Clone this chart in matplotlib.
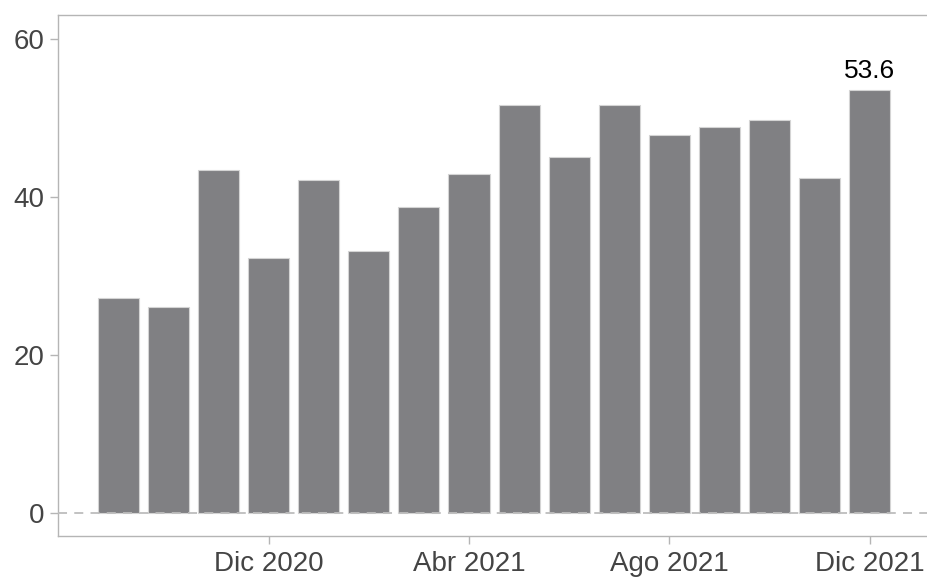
import matplotlib.pyplot as plt
import numpy as np

plt.rcParams['font.family'] = ['Liberation Sans', 'DejaVu Sans']

months = ["Sep 2020", "Oct 2020", "Nov 2020", "Dic 2020", "Ene 2021", "Feb 2021",
          "Mar 2021", "Abr 2021", "May 2021", "Jun 2021", "Jul 2021", "Ago 2021",
          "Sep 2021", "Oct 2021", "Nov 2021", "Dic 2021"]
values = [27.2, 26.1, 43.4, 32.3, 42.1, 33.2, 38.7, 42.9,
          51.6, 45.1, 51.6, 47.8, 48.8, 49.8, 42.4, 53.6]
shown_ticks = ["Dic 2020", "Abr 2021", "Ago 2021", "Dic 2021"]

x = np.arange(len(months))

fig = plt.figure(figsize=(9.27, 5.79), dpi=100)
ax = fig.add_axes([0.0626, 0.0743, 0.9374, 0.8993])

ax.bar(x, values, width=0.82, color='#808083', edgecolor='#d4d4d4', linewidth=0.8, zorder=2)
ax.axhline(0, color='#bdbdbd', linestyle=(0, (5, 4)), linewidth=1.3, zorder=3)

# label only the last bar
ax.annotate(f"{values[-1]:.1f}", (x[-1], values[-1]), xytext=(0, 5),
            textcoords='offset points', ha='center', va='bottom',
            fontsize=19, color='black')

ax.set_xlim(-1.2, 16.14)
ax.set_ylim(-2.9, 63)
ax.set_yticks([0, 20, 40, 60])
tick_pos = [months.index(m) for m in shown_ticks]
ax.set_xticks(tick_pos)
ax.set_xticklabels(shown_ticks)

for s in ['left', 'bottom', 'top']:
    ax.spines[s].set_color('#b5b5b5')
    ax.spines[s].set_linewidth(1.0)
ax.spines['right'].set_visible(False)

ax.tick_params(axis='both', colors='#b5b5b5', labelcolor='#444444',
               labelsize=20, length=6, width=1.0)
ax.tick_params(axis='y', pad=4)
ax.tick_params(axis='x', pad=5)

fig.savefig("out.png", dpi=100)
